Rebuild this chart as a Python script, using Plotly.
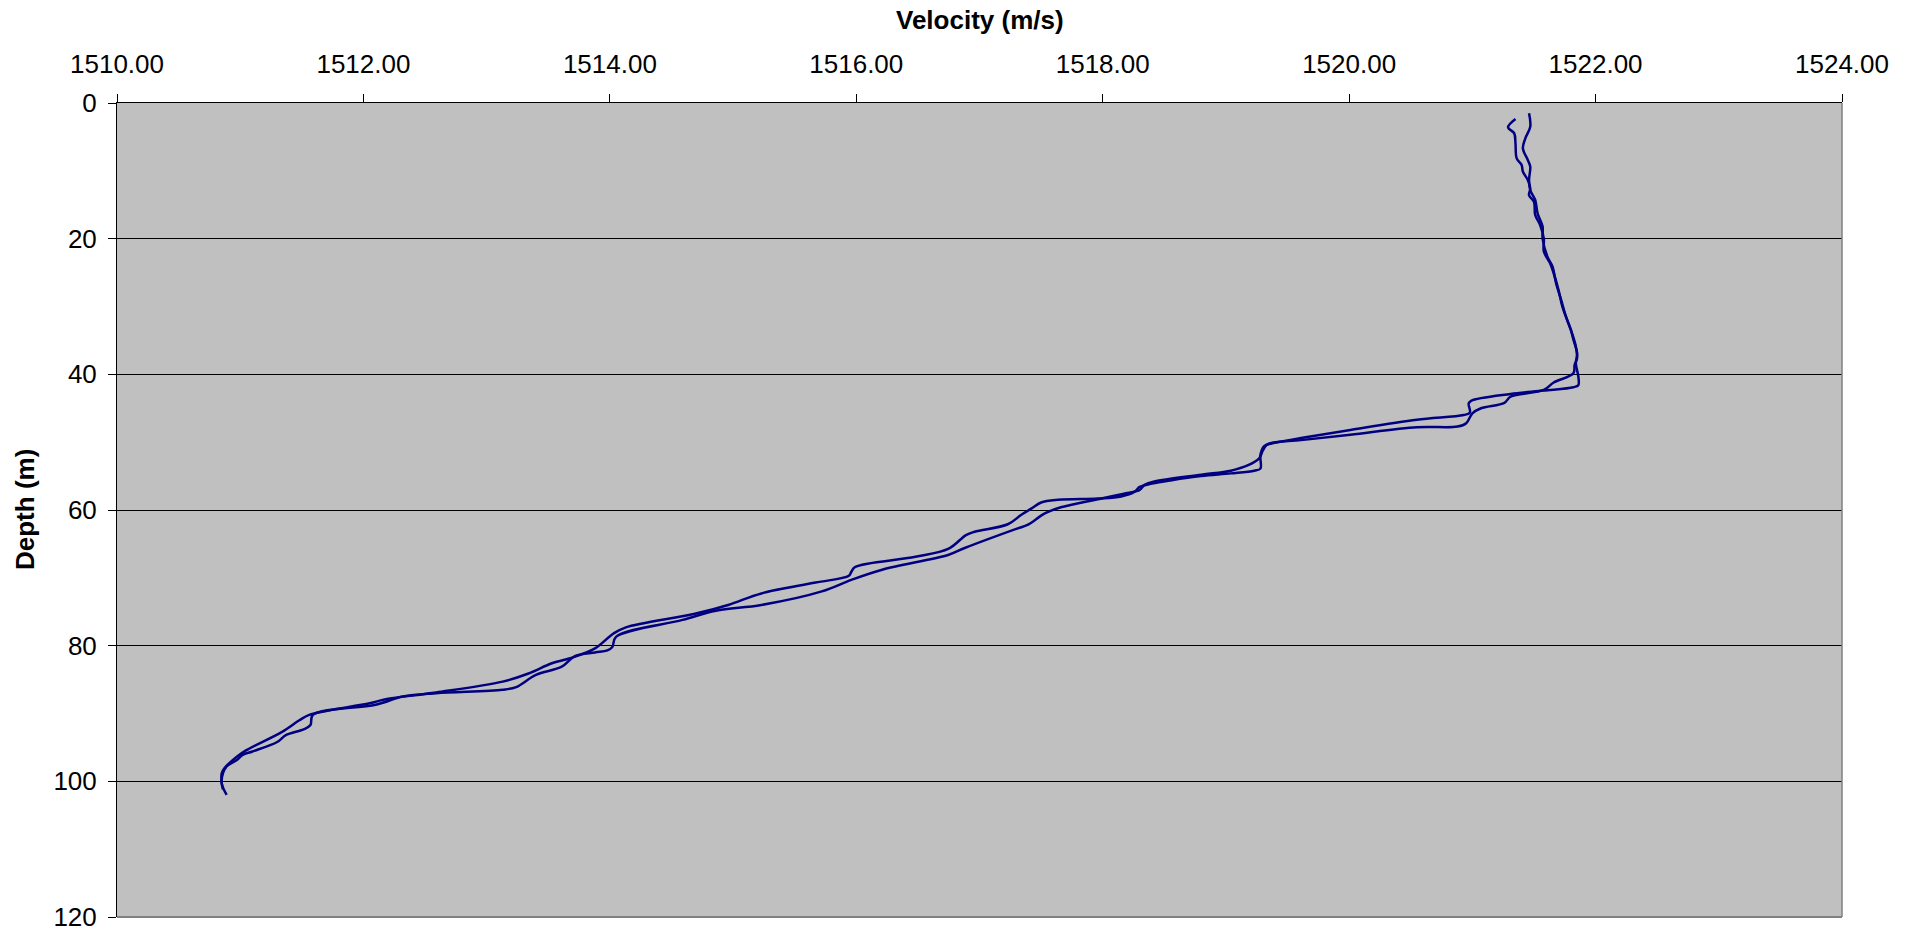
import plotly.graph_objects as go

# Profile 1 (depth m, sound velocity m/s)
depth_a = [2.36, 3.59, 4.47, 5.95, 8.16, 9.14, 10.1, 11.35, 12.6, 13.6, 14.55, 16.5, 18.0, 20.0,
           21.9, 23.6, 25.1, 27.6, 30.0, 32.0, 34.0, 35.9, 37.6, 38.6, 39.85, 41.2, 42.3, 43.3,
           44.2, 45.0, 45.75, 47.2, 47.7, 47.8, 48.9, 49.7, 50.3, 51.2, 52.4, 53.4, 54.2, 54.8,
           55.8, 56.3, 57.05, 57.5, 58.3, 59.6, 60.5, 62.2, 62.7, 65.6, 66.6, 68.8, 70.3, 72.0,
           74.0, 74.85, 76.2, 78.7, 80.2, 80.7, 81.0, 81.5, 83.1, 84.3, 86.1, 86.5, 87.0, 87.5,
           88.7, 90.2, 91.7, 92.3, 93.2, 94.2, 95.6, 96.1, 96.9, 97.8, 98.8, 100.3, 102.0]
vel_a = [1521.35, 1521.29, 1521.34, 1521.35, 1521.36, 1521.40, 1521.41, 1521.45, 1521.47, 1521.46,
         1521.50, 1521.51, 1521.55, 1521.58, 1521.58, 1521.63, 1521.66, 1521.70, 1521.73, 1521.77,
         1521.81, 1521.84, 1521.85, 1521.83, 1521.82, 1521.66, 1521.58, 1521.31, 1521.26, 1521.07,
         1521.00, 1520.95, 1520.88, 1520.55, 1520.01, 1519.61, 1519.34, 1519.30, 1519.27, 1519.18,
         1519.04, 1518.80, 1518.42, 1518.34, 1518.30, 1518.20, 1517.99, 1517.66, 1517.53, 1517.39,
         1517.31, 1516.88, 1516.75, 1516.21, 1515.96, 1515.72, 1515.23, 1514.86, 1514.59, 1514.05,
         1514.02, 1513.98, 1513.88, 1513.72, 1513.61, 1513.40, 1513.24, 1513.13, 1512.59, 1512.32,
         1512.10, 1511.59, 1511.57, 1511.52, 1511.37, 1511.30, 1511.10, 1511.02, 1510.97, 1510.89,
         1510.86, 1510.85, 1510.89]

# Profile 2
depth_b = [1.52, 3.49, 5.2, 6.7, 8.4, 9.4, 11.35, 12.85, 14.3, 16.3, 18.2, 20.0, 22.7, 24.1, 26.6,
           29.0, 31.5, 33.5, 34.9, 36.9, 38.4, 40.3, 41.6, 41.9, 42.4, 42.9, 43.9, 44.3, 45.65, 46.0,
           46.7, 48.2, 49.4, 50.2, 50.6, 51.9, 53.9, 54.2, 54.6, 55.0, 55.6, 56.1, 56.6, 57.3, 58.0,
           58.3, 58.5, 58.9, 59.8, 60.7, 62.1, 63.2, 63.7, 65.7, 66.9, 68.4, 69.1, 69.7, 70.7, 72.3,
           74.0, 75.3, 77.3, 78.2, 80.4, 81.9, 82.6, 84.1, 85.3, 86.9, 87.9, 88.5, 90.2, 91.0, 92.7,
           95.4, 96.4, 98.1, 98.8, 100.3, 101.2]
vel_b = [1521.46, 1521.47, 1521.43, 1521.41, 1521.45, 1521.47, 1521.46, 1521.47, 1521.51, 1521.53,
         1521.57, 1521.57, 1521.61, 1521.65, 1521.68, 1521.72, 1521.76, 1521.80, 1521.82, 1521.85,
         1521.84, 1521.86, 1521.86, 1521.82, 1521.58, 1521.31, 1520.99, 1520.97, 1520.98, 1520.93,
         1520.55, 1520.01, 1519.61, 1519.37, 1519.31, 1519.28, 1519.28, 1519.23, 1519.04, 1518.80,
         1518.56, 1518.40, 1518.30, 1518.26, 1518.15, 1517.96, 1517.64, 1517.50, 1517.42, 1517.34,
         1517.23, 1516.96, 1516.89, 1516.75, 1516.48, 1515.99, 1515.96, 1515.94, 1515.67, 1515.23,
         1514.96, 1514.69, 1514.13, 1514.03, 1513.88, 1513.67, 1513.53, 1513.34, 1513.13, 1512.59,
         1512.18, 1512.05, 1511.56, 1511.48, 1511.34, 1511.05, 1510.97, 1510.87, 1510.85, 1510.85,
         1510.86]

x_ticks = [1510, 1512, 1514, 1516, 1518, 1520, 1522, 1524]
y_ticks = [0, 20, 40, 60, 80, 100, 120]

FONT = "Liberation Sans, Arial, sans-serif"
LINE = "#000080"

fig = go.Figure()
for xs, ys in ((vel_a, depth_a), (vel_b, depth_b)):
    fig.add_trace(go.Scatter(x=xs, y=ys, mode="lines",
                             line=dict(color=LINE, width=2.5, shape="spline", smoothing=1.0),
                             showlegend=False, hoverinfo="x+y"))

fig.update_layout(
    width=1917, height=933, autosize=False,
    margin=dict(l=117, r=75, t=103, b=16, pad=0, autoexpand=False),
    paper_bgcolor="white",
    plot_bgcolor="#C0C0C0",
    font=dict(family=FONT, size=26, color="black"),
    showlegend=False,
    xaxis=dict(
        side="top", range=[1510, 1524], tickvals=x_ticks,
        ticktext=[f"{v:.2f}" for v in x_ticks],
        showgrid=False, zeroline=False, automargin=False,
        showline=True, linecolor="black", linewidth=1,
        ticks="outside", ticklen=8, tickcolor="black", tickwidth=1,
        ticklabelstandoff=11,
        tickfont=dict(family=FONT, size=26, color="black"),
    ),
    yaxis=dict(
        range=[120, 0], tickvals=y_ticks,
        showgrid=True, gridcolor="black", gridwidth=1, zeroline=False, automargin=False,
        showline=True, linecolor="black", linewidth=1,
        ticks="outside", ticklen=8, tickcolor="black", tickwidth=1,
        ticklabelstandoff=6,
        tickfont=dict(family=FONT, size=26, color="black"),
    ),
    shapes=[
        dict(type="line", xref="paper", yref="paper", x0=1, x1=1, y0=0, y1=1,
             line=dict(color="#808080", width=1.5)),
        dict(type="line", xref="paper", yref="paper", x0=0, x1=1, y0=0, y1=0,
             line=dict(color="#808080", width=2)),
    ],
    annotations=[
        dict(text="<b>Velocity (m/s)</b>", xref="paper", yref="paper",
             x=0.5, y=(917 - 20) / 814, xanchor="center", yanchor="middle",
             showarrow=False, font=dict(family=FONT, size=26, color="black")),
        dict(text="<b>Depth (m)</b>", xref="paper", yref="paper",
             x=(25 - 117) / 1725, y=0.5, xanchor="center", yanchor="middle",
             textangle=-90, showarrow=False,
             font=dict(family=FONT, size=26, color="black")),
    ],
)

fig.write_html("out.html", config={"displayModeBar": False},
               post_script="document.body.style.margin='0';document.body.style.overflow='hidden';")
